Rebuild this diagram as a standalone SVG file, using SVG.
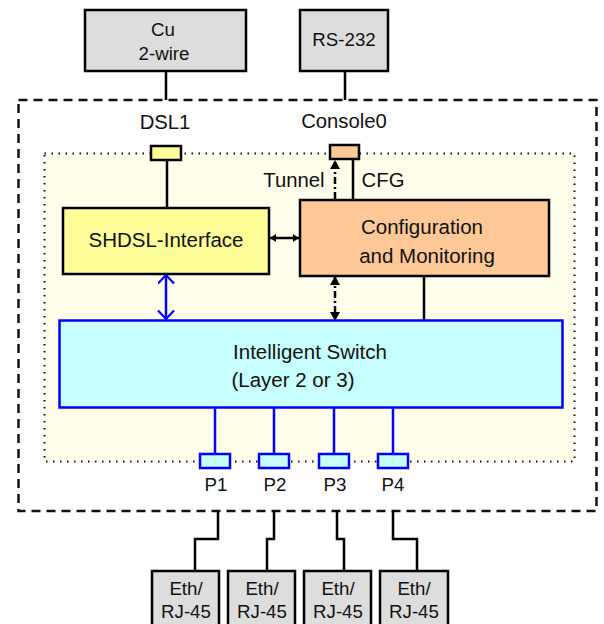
<svg xmlns="http://www.w3.org/2000/svg" width="604" height="624" viewBox="0 0 604 624">
<style>
text{font-family:"Liberation Sans",Arial,sans-serif;font-size:18.700px;fill:#111;text-anchor:middle}
.b{stroke:#000;stroke-width:2.500;fill:none}
.bl{stroke:#00f;stroke-width:2.500;fill:none}
.box{stroke:#000;stroke-width:2.500}
.g{fill:#ddd}
.lg{font-size:20.500px}
.md{font-size:20.300px}
</style>
<defs>
<marker id="tri" markerWidth="12" markerHeight="12" refX="9" refY="5" orient="auto-start-reverse" markerUnits="userSpaceOnUse"><path d="M0 0L9 5L0 10Z" fill="#000"/></marker>
<marker id="tris" markerWidth="8" markerHeight="10" refX="6" refY="4" orient="auto-start-reverse" markerUnits="userSpaceOnUse"><path d="M0 0L6 4L0 8Z" fill="#000"/></marker>
<marker id="open" markerWidth="12" markerHeight="18" refX="9.500" refY="8.500" orient="auto-start-reverse" markerUnits="userSpaceOnUse"><path d="M1 .5L9.500 8.500L1 16.500" fill="none" stroke="#00f" stroke-width="2.200"/></marker>
</defs>
<g id="frames">
<rect id="inner" x="44.500" y="153.500" width="530" height="308" fill="#fffeea" stroke="#111" stroke-width="2" stroke-dasharray="1.500 5.500"/>
<rect id="outer" x="18.500" y="100" width="578" height="411" fill="none" stroke="#111" stroke-width="2.500" stroke-dasharray="9 6"/>
</g>
<g id="connectors">
<path class="b" d="M166 71V100M345 71V100M167 160V208M353 159V199M424 276V320"/>
<path class="b" d="M335 199V160" stroke-dasharray="7 3 2 3" marker-end="url(#tri)"/>
<path class="b" d="M335 276V321" stroke-dasharray="7 3 2 3" marker-start="url(#tri)" marker-end="url(#tri)"/>
<path class="b" d="M270 238H299" marker-start="url(#tris)" marker-end="url(#tris)"/>
<path class="bl" d="M166 275V319" marker-start="url(#open)" marker-end="url(#open)"/>
<path class="bl" d="M215 408V454M274 408V454M334 408V454M393 408V454"/>
<path class="b" d="M218 511V539H195V571M274 511V539H267V571M337 511V539H344V571M393 511V539H417V571"/>
</g>
<g id="cu"><rect class="box g" x="85" y="10" width="161" height="61"/><text x="163" y="36">Cu</text><text x="164" y="60">2-wire</text></g>
<g id="rs232"><rect class="box g" x="300" y="10" width="88" height="61"/><text x="344" y="46">RS-232</text></g>
<g id="dsl1"><rect class="box" x="151" y="146" width="30" height="14" fill="#ffff99"/><text class="md" x="165" y="129">DSL1</text></g>
<g id="console0"><rect class="box" x="330" y="145" width="29" height="14" fill="#ffc896"/><text class="md" x="344" y="128">Console0</text></g>
<g id="shdsl"><rect class="box" x="63" y="208" width="206" height="66" fill="#ffff99"/><text class="lg" x="166" y="247">SHDSL-Interface</text></g>
<g id="config"><rect class="box" x="300" y="200" width="249" height="76" fill="#ffc896"/><text class="lg" x="422" y="234">Configuration</text><text class="lg" x="427" y="263">and Monitoring</text></g>
<g id="tunnel-label"><text class="md" x="294" y="187">Tunnel</text></g>
<g id="cfg-label"><text class="md" x="383" y="187">CFG</text></g>
<g id="switch"><rect x="59.500" y="320.500" width="503" height="87" fill="#c8ffff" stroke="#00f" stroke-width="2.500"/><text class="lg" x="310" y="359">Intelligent Switch</text><text class="lg" x="293" y="387">(Layer 2 or 3)</text></g>
<g id="p1"><rect x="200" y="454" width="30" height="14" fill="#c8ffff" stroke="#00f" stroke-width="2.500"/><text x="216" y="491">P1</text></g>
<g id="p2"><rect x="259" y="454" width="30" height="14" fill="#c8ffff" stroke="#00f" stroke-width="2.500"/><text x="275" y="491">P2</text></g>
<g id="p3"><rect x="319" y="454" width="30" height="14" fill="#c8ffff" stroke="#00f" stroke-width="2.500"/><text x="335" y="491">P3</text></g>
<g id="p4"><rect x="378" y="454" width="30" height="14" fill="#c8ffff" stroke="#00f" stroke-width="2.500"/><text x="393" y="491">P4</text></g>
<g id="eth1"><rect class="box g" x="152" y="571" width="67" height="60"/><text x="186" y="595">Eth/</text><text x="186" y="618">RJ-45</text></g>
<g id="eth2"><rect class="box g" x="228" y="571" width="67" height="60"/><text x="262" y="595">Eth/</text><text x="262" y="618">RJ-45</text></g>
<g id="eth3"><rect class="box g" x="304" y="571" width="67" height="60"/><text x="338" y="595">Eth/</text><text x="338" y="618">RJ-45</text></g>
<g id="eth4"><rect class="box g" x="380" y="571" width="68" height="60"/><text x="414" y="595">Eth/</text><text x="414" y="618">RJ-45</text></g>
</svg>
